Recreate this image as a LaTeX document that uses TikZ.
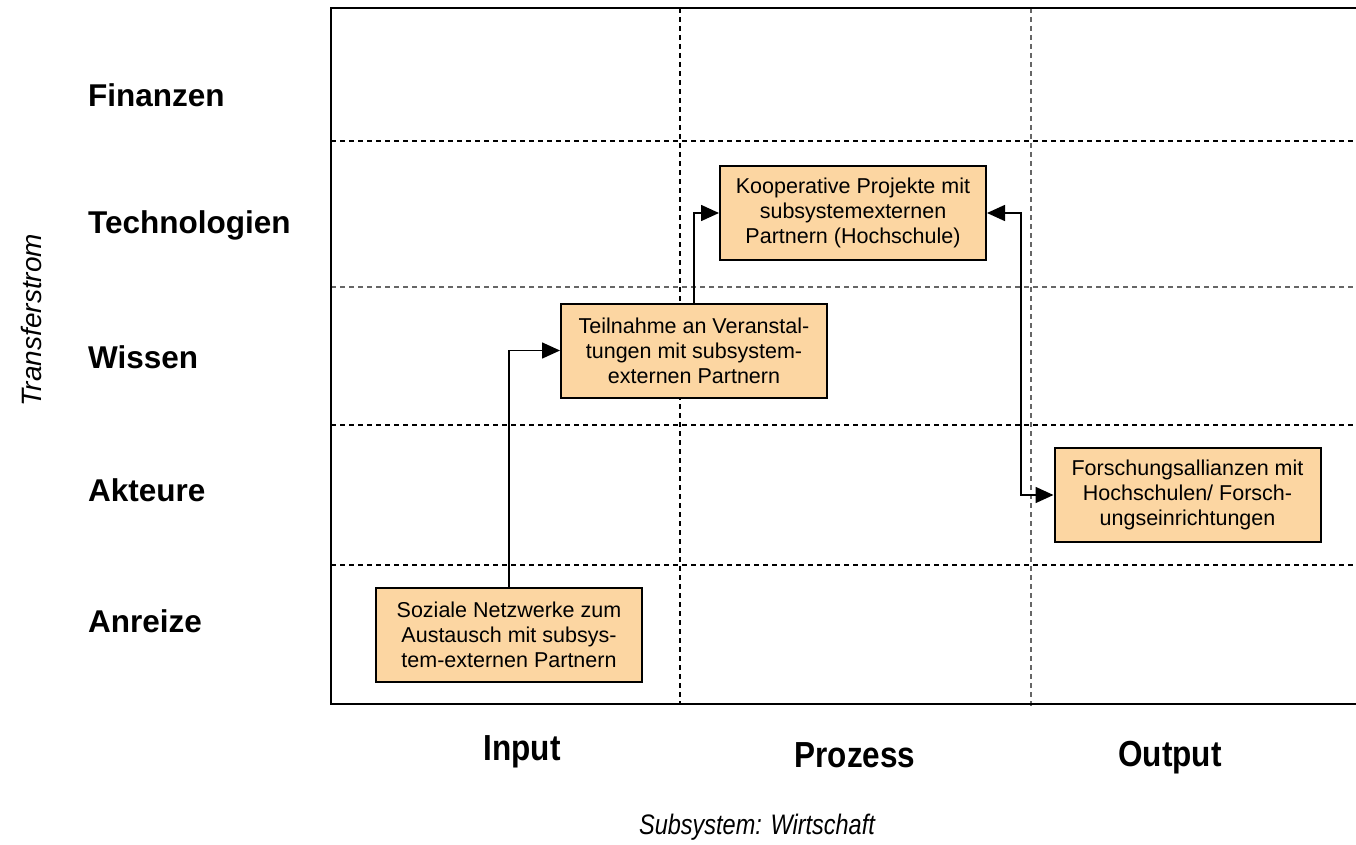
\documentclass[tikz,border=0pt]{standalone}
\usepackage{fontspec}
\setmainfont{Liberation Sans}
\usetikzlibrary{arrows.meta}
\definecolor{boxfill}{RGB}{252,214,162}
\tikzset{
  frameline/.style={line width=2.2pt, draw=black},
  gridline/.style={line width=1.1pt, dash pattern=on 5pt off 4pt, draw=black},
  gridgray/.style={line width=1.1pt, dash pattern=on 5pt off 4pt, draw=black!60},
  tbox/.style={draw=black, line width=2pt, fill=boxfill, minimum width=266pt, minimum height=94pt, inner sep=2pt, align=center, font=\fontsize{21.5}{25}\selectfont},
  rowlab/.style={anchor=west, font=\fontsize{31.5}{36}\selectfont\bfseries, inner sep=0pt},
  collab/.style={font=\fontsize{31.5}{36}\selectfont\bfseries, inner sep=0pt, yscale=1.15},
  axlab/.style={font=\fontsize{28}{30}\selectfont\itshape, inner sep=0pt},
  conn/.style={line width=1.6pt, -{Triangle[length=18pt,width=16pt]}},
  dconn/.style={line width=1.6pt, {Triangle[length=18pt,width=16pt]}-{Triangle[length=18pt,width=16pt]}}
}
\begin{document}
\begin{tikzpicture}[x=1pt,y=-1pt]
\useasboundingbox (0,0) rectangle (1356,845);
% grid
\draw[gridline] (331,141) -- (1356,141);
\draw[gridgray] (331,287) -- (1356,287);
\draw[gridline] (331,425) -- (1356,425);
\draw[gridline] (331,565) -- (1356,565);
\draw[gridline] (680,8) -- (680,704);
\draw[gridgray] (1031,8) -- (1031,707);
% frame
\draw[frameline] (1356,8) -- (331,8) -- (331,704) -- (1356,704);
% row labels
\node[rowlab] (fin) at (88,95) {Finanzen};
\node[rowlab] (tech) at (88,225) {Technologien};
\node[rowlab] (wiss) at (88,357) {Wissen};
\node[rowlab] (akt) at (88,490) {Akteure};
\node[rowlab] (anr) at (88,621) {Anreize};
\node[axlab, rotate=90] (trans) at (31,320) {Transferstrom};
% column labels
\node[collab] (inp) at (522,752) {Input};
\node[collab] (proz) at (855,755) {Prozess};
\node[collab] (outp) at (1170,758) {Output};
\node[axlab, font=\fontsize{23.5}{28}\selectfont\itshape, yscale=1.2] (subs) at (757,827) {Subsystem: Wirtschaft};
% boxes
\node[tbox] (koop) at (853,213) {Kooperative Projekte mit\\subsystemexternen\\Partnern (Hochschule)};
\node[tbox] (teil) at (694,350.5) {Teilnahme an Veranstal-\\tungen mit subsystem-\\externen Partnern};
\node[tbox] (soz) at (509,635) {Soziale Netzwerke zum\\Austausch mit subsys-\\tem-externen Partnern};
\node[tbox] (forsch) at (1187.5,495) {Forschungsallianzen mit\\Hochschulen/ Forsch-\\ungseinrichtungen};
% connectors
\draw[conn] (soz.north) |- (teil.west);
\draw[conn] (teil.north) |- (koop.west);
\draw[dconn] (koop.east) -- ++(34,0) |- (forsch.west);
\end{tikzpicture}
\end{document}
